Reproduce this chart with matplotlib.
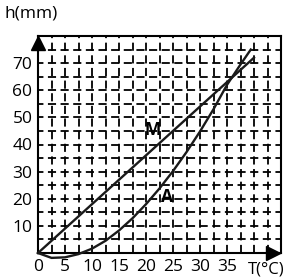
import matplotlib.pyplot as plt

# temperature (degC) vs height (mm)
m_temp = [0, 40]
m_height = [0, 72]

a_temp = [0, 2.5, 5, 7.5, 10, 12.5, 15, 17.5, 20, 22.5, 25, 27.5, 30, 32.5, 35, 37.5, 39.4]
a_height = [0, -1.8, -1.6, -0.4, 1.6, 4.5, 8.3, 12.8, 18, 23.8, 30.2, 37.2, 44.8, 53, 62, 69.5, 75]

x_ticks = [0, 5, 10, 15, 20, 25, 30, 35]
y_ticks = [10, 20, 30, 40, 50, 60, 70]

plt.rcParams['font.family'] = ['Open Sans', 'DejaVu Sans']

fig = plt.figure(figsize=(2.91, 2.80), dpi=100)
ax = fig.add_axes([38 / 291, 27 / 280, 243 / 291, 217 / 280])
ax.set_xlim(0, 45)
ax.set_ylim(0, 80)

# dashed grid: every 2.5 degC and every 5 mm
for i in range(1, 18):
    ax.axvline(i * 2.5, color='black', lw=1.3, ls=(0, (4.5, 2.5)), zorder=1)
for j in range(1, 16):
    ax.axhline(j * 5, color='black', lw=1.3, ls=(1.5, (4.5, 2.5)), zorder=1)

ax.plot(m_temp, m_height, color='#1a1a1a', lw=1.7, zorder=3, clip_on=False)
ax.plot(a_temp, a_height, color='#1a1a1a', lw=1.7, zorder=3, clip_on=False)

ax.text(21.3, 45.5, 'M', fontsize=12.5, fontweight='bold', ha='center', va='center', zorder=4)
ax.text(23.9, 20.7, 'A', fontsize=12.5, fontweight='bold', ha='center', va='center', zorder=4)

for s in ax.spines.values():
    s.set_linewidth(1.5)
ax.tick_params(length=0, labelsize=12.5, pad=4)
ax.set_xticks(x_ticks)
ax.set_yticks(y_ticks)

# arrow heads at the ends of the axes
ax.plot([0], [77.6], marker='^', ms=10, color='black', clip_on=False, zorder=5)
ax.plot([43.6], [0], marker='>', ms=10, color='black', clip_on=False, zorder=5)

fig.text(4 / 291, 1 - 14 / 280, 'h(mm)', fontsize=12.5, va='center', ha='left')
fig.text(266 / 291, 1 - 269 / 280, 'T(°C)', fontsize=12, va='center', ha='center')

fig.savefig('out.png', dpi=100)
